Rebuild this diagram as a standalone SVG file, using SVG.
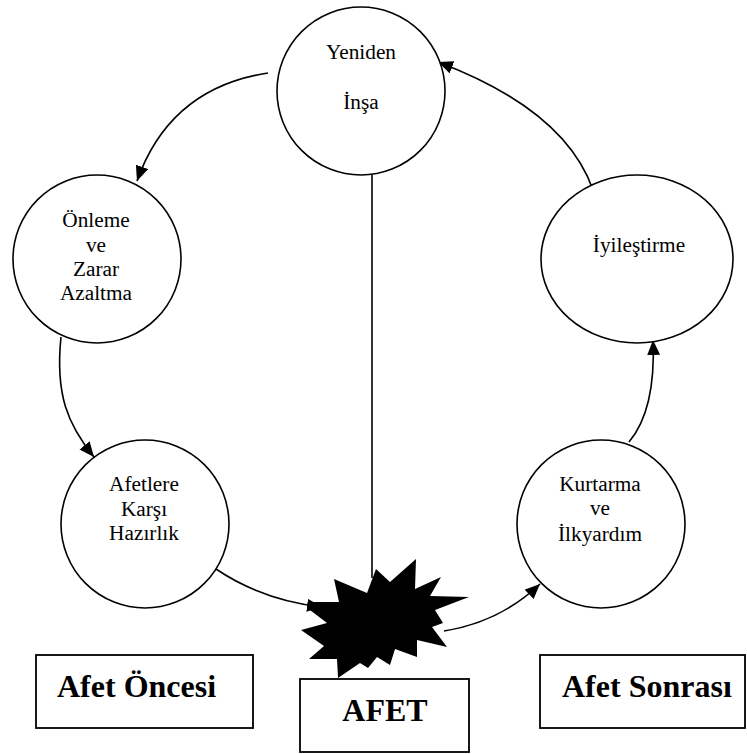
<svg xmlns="http://www.w3.org/2000/svg" width="747" height="754" viewBox="0 0 747 754">
<style>
.n{fill:#fff;stroke:#000;stroke-width:1.6}
.t{font-size:21.3px;fill:#000;text-anchor:middle}
.b{font-size:32px;font-weight:bold;fill:#000}
.c{fill:none;stroke:#000;stroke-width:1.6}
.box{fill:#fff;stroke:#000;stroke-width:1.8}
</style>
<defs>
<marker id="ah" markerUnits="userSpaceOnUse" markerWidth="16" markerHeight="14" refX="15" refY="6.5" orient="auto">
<path d="M0,0 L15,6.5 L0,13 z" fill="#000"/>
</marker>
</defs>
<rect width="747" height="754" fill="#fff"/>
<g id="connectors">
<path class="c" d="M372,175 L372,578"/>
<path class="c" d="M268,73 Q170,88 137,181" marker-end="url(#ah)"/>
<path class="c" d="M593,190 Q565,110 438,62" marker-end="url(#ah)"/>
<path class="c" d="M61,337 C55,395 68,425 94,457" marker-end="url(#ah)"/>
<path class="c" d="M216,569 Q262,600 322,607" marker-end="url(#ah)"/>
<path class="c" d="M444,631 Q500,622 540,584" marker-end="url(#ah)"/>
<path class="c" d="M629,442 Q656,410 653,340" marker-end="url(#ah)"/>
</g>
<g font-family="'Liberation Serif', 'Times New Roman', Times, serif">
<g id="yeniden-insa">
<circle class="n" cx="361" cy="91" r="84"/>
<text class="t" x="361" y="59">Yeniden</text>
<text class="t" x="361" y="109">İnşa</text>
</g>
<g id="onleme">
<circle class="n" cx="97" cy="259" r="84"/>
<text class="t" x="96" y="227">Önleme</text>
<text class="t" x="96" y="252">ve</text>
<text class="t" x="96" y="276">Zarar</text>
<text class="t" x="96" y="300">Azaltma</text>
</g>
<g id="hazirlik">
<circle class="n" cx="145" cy="524" r="84"/>
<text class="t" x="144" y="491">Afetlere</text>
<text class="t" x="144" y="516">Karşı</text>
<text class="t" x="144" y="540">Hazırlık</text>
</g>
<g id="iyilestirme">
<ellipse class="n" cx="637" cy="259" rx="96" ry="84"/>
<text class="t" x="639" y="252">İyileştirme</text>
</g>
<g id="kurtarma">
<circle class="n" cx="601" cy="524" r="84"/>
<text class="t" x="600" y="491">Kurtarma</text>
<text class="t" x="600" y="515">ve</text>
<text class="t" x="600" y="541">İlkyardım</text>
</g>
<g id="afet-star">
<polygon fill="#000" points="334,579 367,593 376,569 390,582 416,559 415,589 441,577 430,596 469,597 435,610 443,623 432,627 447,647 417,640 417,657 395,649 390,665 377,657 368,668 360,663 338,678 337,659 309,659 324,646 301,630 327,623 310,610 312,602 339,602"/>
</g>
<g id="afet-oncesi">
<rect class="box" x="36" y="655" width="217" height="73"/>
<text class="b" x="57" y="697">Afet Öncesi</text>
</g>
<g id="afet">
<rect class="box" x="300" y="679" width="169" height="73"/>
<text class="b" x="385" y="721" text-anchor="middle">AFET</text>
</g>
<g id="afet-sonrasi">
<rect class="box" x="540" y="655" width="205" height="73"/>
<text class="b" x="562" y="697">Afet Sonrası</text>
</g>
</g>
</svg>
